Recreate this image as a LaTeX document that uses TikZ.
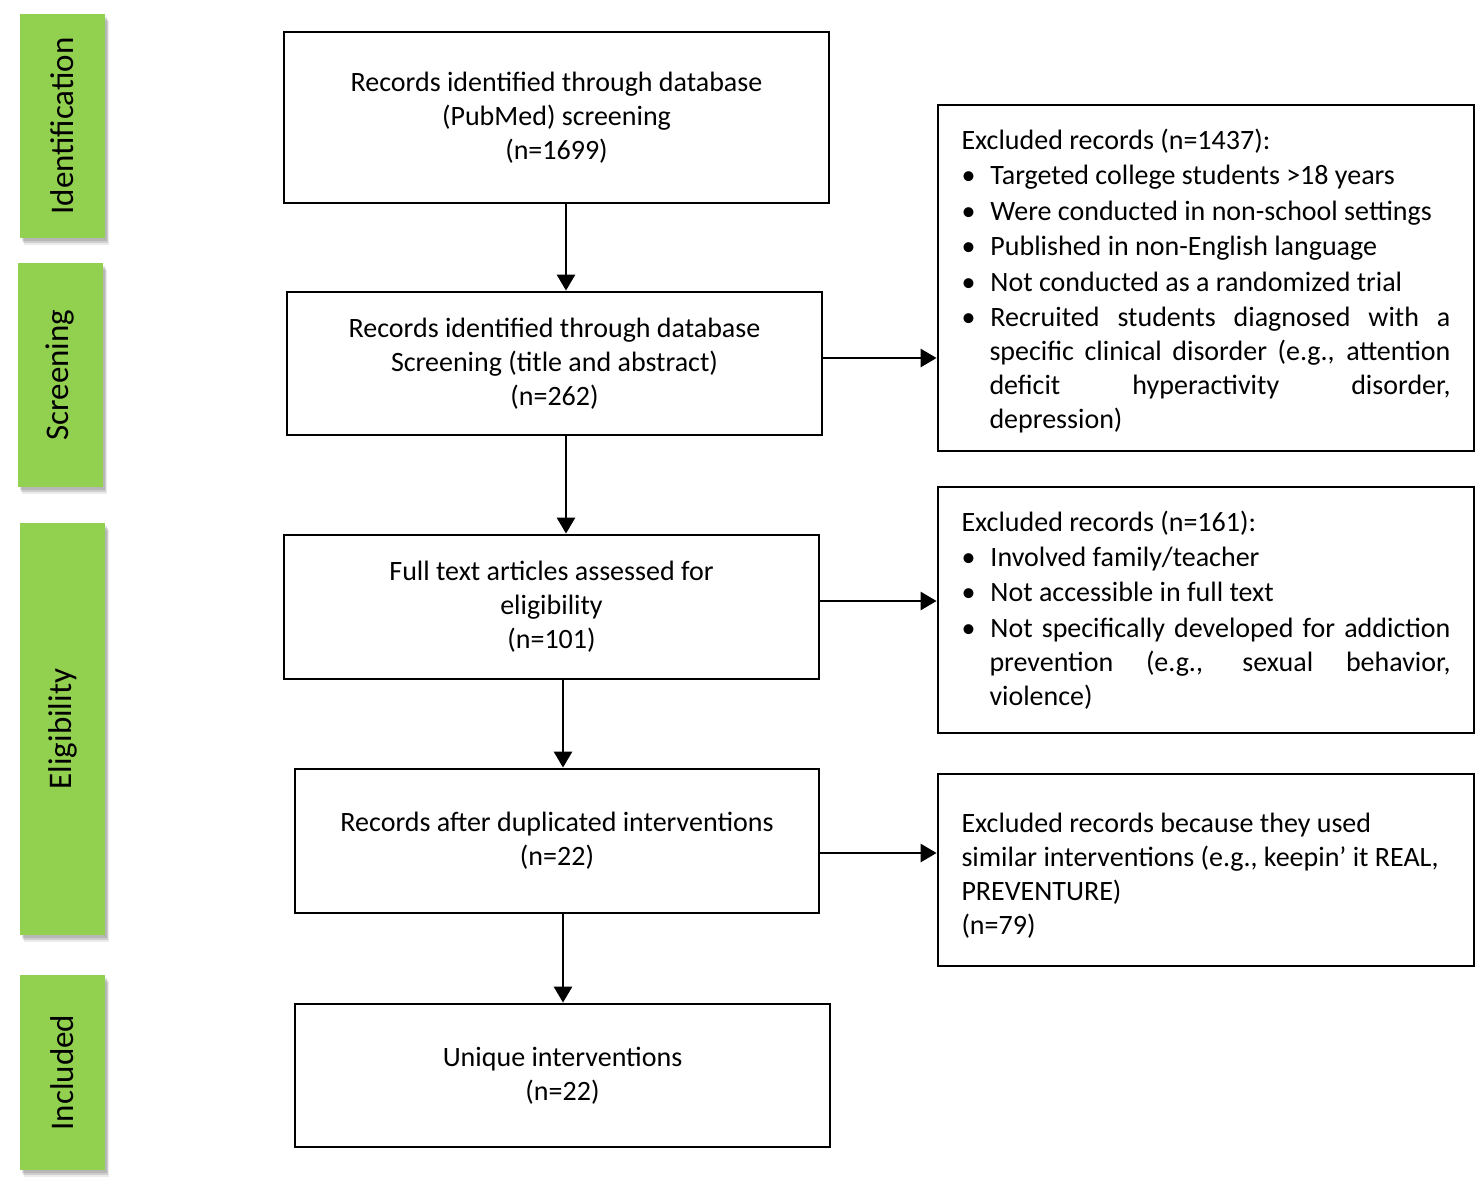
\documentclass[tikz,border=0pt]{standalone}
\usepackage{fontspec}
\setmainfont{Carlito}
\usetikzlibrary{arrows.meta,shadows}
\definecolor{lblgreen}{RGB}{146,208,80}
\newcommand{\bulletlist}{\list{\textbullet}{\setlength\leftmargin{28pt}\setlength\labelsep{15pt}\setlength\labelwidth{13pt}\setlength\itemsep{1.5pt}\setlength\parsep{0pt}\setlength\topsep{1pt}\setlength\partopsep{0pt}\setlength\itemindent{0pt}}}
\let\endbulletlist\endlist
\begin{document}
\begin{tikzpicture}[x=1pt,y=-1pt,
  box/.style={draw, line width=2.8pt, rectangle, inner sep=0pt, align=center,
    font=\fontsize{28}{34}\selectfont},
  exbox/.style={draw, line width=2.8pt, rectangle, inner sep=0pt, minimum width=536pt,
    font=\fontsize{28}{34}\selectfont},
  lbl/.style={fill=lblgreen, rectangle, inner sep=0pt, minimum width=85pt,
    font=\fontsize{33}{40}\selectfont,
    general shadow={shadow xshift=2pt, shadow yshift=-3pt, fill=black, opacity=0.12},
    general shadow={shadow xshift=3pt, shadow yshift=-5pt, fill=black, opacity=0.12},
    general shadow={shadow xshift=4pt, shadow yshift=-7pt, fill=black, opacity=0.08}},
  arr/.style={line width=2.8pt, -{Triangle[length=16pt,width=18pt]}}]
\useasboundingbox (0,0) rectangle (1481,1192);

% phase labels
\node[lbl, minimum height=224pt] (l1) at (62.5,126) {\rotatebox{90}{Identification}};
\node[lbl, minimum height=224pt] (l2) at (60,375) {\rotatebox{90}{Screening}};
\node[lbl, minimum height=412pt] (l3) at (62.5,729) {\rotatebox{90}{Eligibility}};
\node[lbl, minimum height=195pt] (l4) at (62.5,1072.5) {\rotatebox{90}{Included}};

% main boxes
\node[box, minimum width=545pt, minimum height=171pt] (b1) at (556.5,117.5)
  {Records identified through database\\(PubMed) screening\\(n=1699)};
\node[box, minimum width=535pt, minimum height=143pt] (b2) at (554.5,363.5)
  {Records identified through database\\Screening (title and abstract)\\(n=262)};
\node[box, minimum width=535pt, minimum height=144pt] (b3) at (551.5,607)
  {Full text articles assessed for\\eligibility\\(n=101)};
\node[box, minimum width=524pt, minimum height=144pt] (b4) at (557,841)
  {Records after duplicated interventions\\(n=22)};
\node[box, minimum width=535pt, minimum height=143pt] (b5) at (562.5,1075.5)
  {Unique interventions\\(n=22)};

% exclusion boxes
\node[exbox, text width=489pt, align=justify, minimum height=346pt] (r1) at (1206,278) {%
\rule{0pt}{27pt}Excluded records (n=1437):\par
\begin{bulletlist}
\item Targeted college students >18 years
\item Were conducted in non-school settings
\item Published in non-English language
\item Not conducted as a randomized trial
\item Recruited students diagnosed with a\linebreak specific clinical disorder (e.g., attention\linebreak deficit hyperactivity disorder,\linebreak depression)
\end{bulletlist}};
\node[exbox, text width=489pt, align=justify, minimum height=246pt] (r2) at (1206,610) {%
Excluded records (n=161):\par
\begin{bulletlist}
\item Involved family/teacher
\item Not accessible in full text
\item Not specifically developed for addiction\linebreak prevention (e.g., sexual behavior,\linebreak violence)
\end{bulletlist}};
\node[exbox, align=left, minimum height=192pt, text depth=0pt] (r3) at (1206,870) {%
\makebox[489pt][l]{\rule{0pt}{27pt}Excluded records because they used}\\similar interventions (e.g., keepin' it REAL,\\PREVENTURE)\\(n=79)};

% connectors
\coordinate (c1) at (566,0);
\coordinate (c2) at (563,0);
\coordinate (h1) at (0,358);
\coordinate (h2) at (0,601);
\coordinate (h3) at (0,853);
\draw[arr] (c1 |- b1.south) -- (c1 |- b2.north);
\draw[arr] (c1 |- b2.south) -- (c1 |- b3.north);
\draw[arr] (c2 |- b3.south) -- (c2 |- b4.north);
\draw[arr] (c2 |- b4.south) -- (c2 |- b5.north);
\draw[arr] (b2.east |- h1) -- (r1.west |- h1);
\draw[arr] (b3.east |- h2) -- (r2.west |- h2);
\draw[arr] (b4.east |- h3) -- (r3.west |- h3);
\end{tikzpicture}
\end{document}
